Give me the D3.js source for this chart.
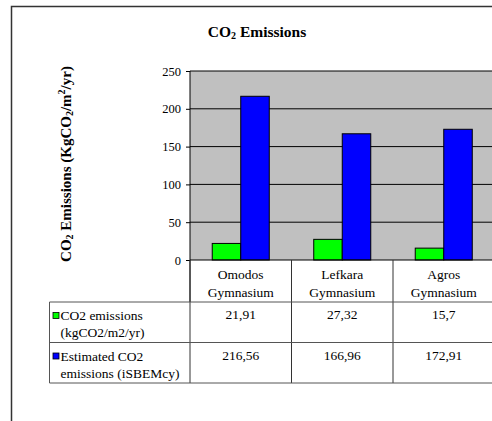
<!DOCTYPE html>
<html>
<head>
<meta charset="utf-8">
<script src="https://cdn.jsdelivr.net/npm/d3@7"></script>
<style>
  body { margin: 0; background: #fff; }
  svg text { font-family: "Liberation Serif", "Times New Roman", serif; fill: #000; }
</style>
</head>
<body>
<div id="chart"></div>
<script>
// data
let categories = [["Omodos", "Gymnasium"], ["Lefkara", "Gymnasium"], ["Agros", "Gymnasium"]]
let seriesNames = [["CO2 emissions", "(kgCO2/m2/yr)"], ["Estimated CO2", "emissions (iSBEMcy)"]]
let co2Measured = [21.91, 27.32, 15.7]
let co2Estimated = [216.56, 166.96, 172.91]
let tableLabels = [["21,91", "27,32", "15,7"], ["216,56", "166,96", "172,91"]]
let yTicks = [0, 50, 100, 150, 200, 250]
let colors = ["#00ff00", "#0000ff"]

let width = 492, height = 421
let margin = {top: 71, left: 190}
let plotW = 304.5, plotH = 189
let serif = "'Liberation Serif', 'Times New Roman', serif"

let svg = d3.select("#chart").append("svg")
    .attr("width", width)
    .attr("height", height)
    .style("font-family", serif)

// outer chart border (cut off on right and bottom)
svg.append("rect")
    .attr("x", 11.5).attr("y", 6.5)
    .attr("width", 600).attr("height", 600)
    .attr("fill", "none").attr("stroke", "#333").attr("stroke-width", 1.5)

// title
let title = svg.append("text")
    .attr("x", 257).attr("y", 37)
    .attr("text-anchor", "middle")
    .style("font-family", serif)
    .style("font-size", "15.5px").style("font-weight", "bold")
title.append("tspan").text("CO")
title.append("tspan").text("2").style("font-size", "10px").attr("dy", 2)
title.append("tspan").text(" Emissions").attr("dy", -2)

let g = svg.append("g").attr("transform", `translate(${margin.left}, ${margin.top})`)

// scales
let x0 = d3.scaleBand().domain(d3.range(categories.length)).range([0, plotW]).padding(0)
let x1 = d3.scaleBand().domain([0, 1]).range([0, x0.bandwidth()]).paddingInner(0).paddingOuter(0.78)
let y = d3.scaleLinear().domain([0, 250]).range([plotH, 0])

// plot background
g.append("rect")
    .attr("width", plotW).attr("height", plotH)
    .attr("fill", "#c0c0c0")

// gridlines
g.selectAll(".grid").data(yTicks.slice(1)).enter().append("line")
    .attr("x1", 0).attr("x2", plotW)
    .attr("y1", d => y(d)).attr("y2", d => y(d))
    .attr("stroke", "#000").attr("stroke-width", 1)

// y axis
let yAxis = d3.axisLeft(y).tickValues(yTicks).tickSize(4).tickPadding(5)
let yg = g.append("g").call(yAxis)
yg.attr("font-family", null)
yg.select(".domain").attr("stroke", "#000").attr("d", `M0,${plotH + 42}V0`)
yg.selectAll("text").style("font-size", "12.5px").style("font-family", serif)
yg.selectAll(".tick line").attr("stroke", "#000")

// bars
let seriesData = [co2Measured, co2Estimated]
let groups = g.selectAll(".grp").data(categories).enter().append("g")
    .attr("transform", (d, i) => `translate(${x0(i)},0)`)
groups.selectAll("rect").data((d, i) => seriesData.map((s, k) => ({k: k, v: s[i]})))
    .enter().append("rect")
    .attr("x", d => x1(d.k))
    .attr("y", d => y(d.v))
    .attr("width", x1.bandwidth())
    .attr("height", d => plotH - y(d.v))
    .attr("fill", d => colors[d.k])
    .attr("stroke", "#000").attr("stroke-width", 1)

// baseline
g.append("line").attr("x1", 0).attr("x2", plotW).attr("y1", plotH).attr("y2", plotH)
    .attr("stroke", "#000")

// data table
let rowTop = plotH + 42, rowH = 40.5, tableLeft = 49.5 - margin.left
let t = g.append("g").attr("class", "table")
let fs = "13.5px"

// category labels
categories.forEach((c, i) => {
    let cx = x0(i) + x0.bandwidth() / 2
    c.forEach((line, j) => {
        t.append("text").attr("x", cx).attr("y", plotH + 19 + j * 18)
            .attr("text-anchor", "middle").style("font-size", fs).style("font-family", serif).text(line)
    })
})

// vertical lines
d3.range(categories.length + 1).forEach(i => {
    let xx = i < categories.length ? x0(i) : plotW
    t.append("line").attr("x1", xx).attr("x2", xx)
        .attr("y1", plotH).attr("y2", rowTop + 2 * rowH)
        .attr("stroke", "#333").attr("stroke-width", 1)
})
t.append("line").attr("x1", tableLeft).attr("x2", tableLeft)
    .attr("y1", rowTop).attr("y2", rowTop + 2 * rowH).attr("stroke", "#555")

// horizontal lines
d3.range(3).forEach(r => {
    t.append("line").attr("x1", tableLeft).attr("x2", plotW)
        .attr("y1", rowTop + r * rowH).attr("y2", rowTop + r * rowH)
        .attr("stroke", "#555").attr("stroke-width", 1)
})

// rows
seriesNames.forEach((name, r) => {
    let top = rowTop + r * rowH
    t.append("rect").attr("x", tableLeft + 3.5).attr("y", top + 10.5)
        .attr("width", 6).attr("height", 6)
        .attr("fill", colors[r]).attr("stroke", "#000").attr("stroke-width", 0.8)
    name.forEach((line, j) => {
        t.append("text").attr("x", tableLeft + 11).attr("y", top + 18 + j * 17)
            .style("font-size", fs).style("font-family", serif).text(line)
    })
    tableLabels[r].forEach((v, i) => {
        t.append("text").attr("x", x0(i) + x0.bandwidth() / 2).attr("y", top + 17)
            .attr("text-anchor", "middle").style("font-size", fs).style("font-family", serif).text(v)
    })
})

// y axis title
let yt = svg.append("text")
    .attr("transform", "translate(71, 164) rotate(-90)")
    .attr("text-anchor", "middle")
    .style("font-family", serif)
    .style("font-size", "15px").style("font-weight", "bold")
yt.append("tspan").text("CO")
yt.append("tspan").text("2").style("font-size", "10px").attr("dy", 2)
yt.append("tspan").text(" Emissions (KgCO").attr("dy", -2)
yt.append("tspan").text("2").style("font-size", "10px").attr("dy", 2)
yt.append("tspan").text("/m").attr("dy", -2)
yt.append("tspan").text("2").style("font-size", "10px").attr("dy", -6)
yt.append("tspan").text("/yr)").attr("dy", 6)
</script>
</body>
</html>
